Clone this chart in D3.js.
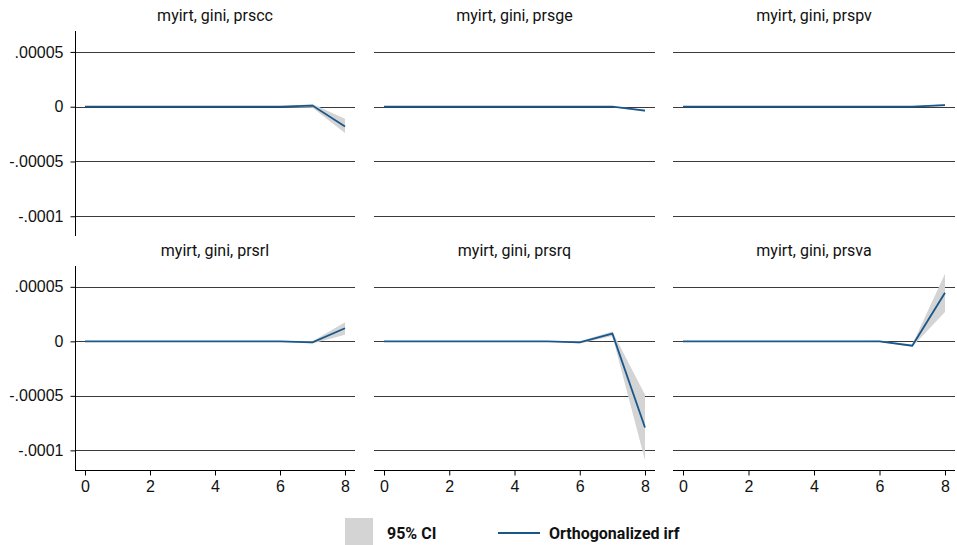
<!DOCTYPE html>
<html>
<head>
<meta charset="utf-8">
<script src="https://cdn.jsdelivr.net/npm/d3@7"></script>
<style>
  body { margin: 0; background: #fff; }
  svg { font-family: Roboto, "Liberation Sans", Arial, sans-serif; }
  .tick text { font-size: 16px; fill: #111; }
  .domain { stroke: #000; }
</style>
</head>
<body>
<svg id="chart" width="957" height="545"></svg>
<script>
// impulse steps
var steps = [0, 1, 2, 3, 4, 5, 6, 7, 8];
var xTicks = [0, 2, 4, 6, 8];
var yTicks = [0.00005, 0, -0.00005, -0.0001];
var yTickLabels = [".00005", "0", "-.00005", "-.0001"];

var titles = ["myirt, gini, prscc", "myirt, gini, prsge", "myirt, gini, prspv",
              "myirt, gini, prsrl", "myirt, gini, prsrq", "myirt, gini, prsva"];

// orthogonalized irf (units of 1e-5)
var irf = [
  [0, 0, 0, 0, 0, 0, 0, 0.1, -1.8],
  [0, 0, 0, 0, 0, 0, 0, 0, -0.35],
  [0, 0, 0, 0, 0, 0, 0, 0, 0.15],
  [0, 0, 0, 0, 0, 0, 0, -0.1, 1.2],
  [0, 0, 0, 0, 0, 0, -0.1, 0.7, -7.9],
  [0, 0, 0, 0, 0, 0, 0, -0.4, 4.45]
];
// 95% CI lower / upper (units of 1e-5)
var ciLow = [
  [0, 0, 0, 0, 0, 0, -0.03, -0.1, -2.4],
  [0, 0, 0, 0, 0, 0, 0, -0.03, -0.45],
  [0, 0, 0, 0, 0, 0, 0, -0.03, 0.05],
  [0, 0, 0, 0, 0, 0, -0.03, -0.2, 0.6],
  [0, 0, 0, 0, 0, 0, -0.2, 0.5, -10.9],
  [0, 0, 0, 0, 0, 0, -0.05, -0.5, 2.7]
];
var ciHigh = [
  [0, 0, 0, 0, 0, 0, 0.03, 0.25, -1.1],
  [0, 0, 0, 0, 0, 0, 0, 0.03, -0.25],
  [0, 0, 0, 0, 0, 0, 0, 0.03, 0.25],
  [0, 0, 0, 0, 0, 0, 0.03, 0, 1.75],
  [0, 0, 0, 0, 0, 0, 0, 0.9, -4.9],
  [0, 0, 0, 0, 0, 0, 0.05, -0.3, 6.2]
];
var unit = 1e-5;

var lineColor = "#17578b";
var ciColor = "#d4d4d4";

var cols = [[75, 355], [374, 655], [673, 955]];
var rows = [[31, 236], [266, 470]];

var svg = d3.select("#chart");

titles.forEach(function(title, i) {
  var c = cols[i % 3], r = rows[Math.floor(i / 3)];
  var x = d3.scaleLinear().domain([0, 8]).range([c[0] + 10, c[1] - 10]);
  var y = d3.scaleLinear().domain([-0.000118, 0.0000691]).range([r[1], r[0]]);
  var g = svg.append("g");

  // grid lines
  g.selectAll(".grid").data(yTicks).enter().append("line")
    .attr("x1", c[0]).attr("x2", c[1])
    .attr("y1", function(d) { return Math.round(y(d)) + 0.5; })
    .attr("y2", function(d) { return Math.round(y(d)) + 0.5; })
    .attr("stroke", "#3a3a3a").attr("stroke-width", 1);

  // CI band
  var area = d3.area()
    .x(function(d, k) { return x(steps[k]); })
    .y0(function(d, k) { return y(ciLow[i][k] * unit); })
    .y1(function(d, k) { return y(ciHigh[i][k] * unit); });
  g.append("path").datum(steps).attr("d", area).attr("fill", ciColor);

  // irf line
  var line = d3.line()
    .x(function(d, k) { return x(steps[k]); })
    .y(function(d) { return y(d * unit); });
  g.append("path").datum(irf[i]).attr("d", line)
    .attr("fill", "none").attr("stroke", lineColor).attr("stroke-width", 1.8);

  // title
  svg.append("text").attr("x", (c[0] + c[1]) / 2).attr("y", r[0] - 10)
    .attr("text-anchor", "middle").attr("font-size", 16).attr("fill", "#111")
    .text(title);

  // y axis on first column
  if (i % 3 === 0) {
    var ya = svg.append("g").attr("transform", "translate(" + (c[0] + 0.5) + ",0)")
      .call(d3.axisLeft(y).tickValues(yTicks).tickSize(5).tickPadding(7)
        .tickFormat(function(d, k) { return yTickLabels[k]; }));
    ya.select(".domain").attr("d", "M0," + r[0] + "V" + r[1]);
    ya.selectAll(".tick line").attr("stroke", "#000");
  }
  // x axis on bottom row
  if (i >= 3) {
    var xa = svg.append("g").attr("transform", "translate(0," + (r[1] + 0.5) + ")")
      .call(d3.axisBottom(x).tickValues(xTicks).tickSize(5).tickPadding(5)
        .tickFormat(d3.format("d")));
    xa.select(".domain").attr("d", "M" + c[0] + ",0H" + c[1]);
    xa.selectAll(".tick line").attr("stroke", "#000");
  }
});

// legend
var legend = svg.append("g");
legend.append("rect").attr("x", 345).attr("y", 518).attr("width", 28).attr("height", 27).attr("fill", ciColor);
legend.append("text").attr("x", 387).attr("y", 539).attr("font-size", 16).attr("font-weight", "bold")
  .attr("fill", "#111").text("95% CI");
legend.append("line").attr("x1", 498).attr("x2", 540).attr("y1", 533).attr("y2", 533)
  .attr("stroke", lineColor).attr("stroke-width", 2);
legend.append("text").attr("x", 549).attr("y", 539).attr("font-size", 16).attr("font-weight", "bold")
  .attr("fill", "#111").text("Orthogonalized irf");
</script>
</body>
</html>
